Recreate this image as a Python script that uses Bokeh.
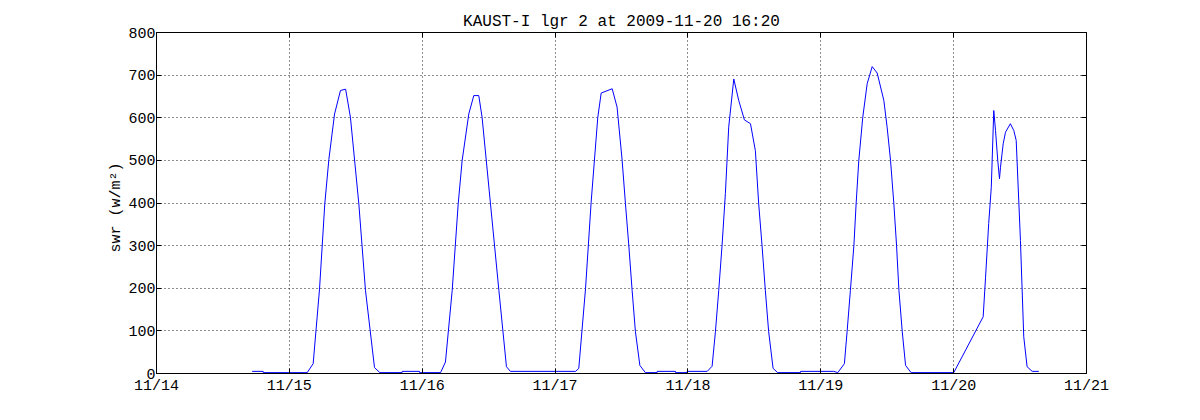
from datetime import datetime
from bokeh.plotting import figure
from bokeh.models import (ColumnDataSource, FixedTicker, DatetimeTickFormatter,
                          DatetimeAxis, LinearAxis, Range1d, CustomJSTickFormatter)
from bokeh.embed import file_html
from bokeh.resources import INLINE

title_text = "KAUST-I lgr 2 at 2009-11-20 16:20"
y_label = "swr  (w/m\u00b2)"

times = [
    "2009-11-14 17:17", "2009-11-14 19:16", "2009-11-14 19:17", "2009-11-15 03:13",
    "2009-11-15 04:18", "2009-11-15 05:27", "2009-11-15 06:24", "2009-11-15 07:08",
    "2009-11-15 08:10", "2009-11-15 09:14", "2009-11-15 10:10", "2009-11-15 11:02",
    "2009-11-15 12:33", "2009-11-15 13:45", "2009-11-15 15:23", "2009-11-15 16:21",
    "2009-11-15 20:22", "2009-11-15 20:23", "2009-11-15 23:31", "2009-11-15 23:32",
    "2009-11-16 03:19", "2009-11-16 04:12", "2009-11-16 05:25", "2009-11-16 06:30",
    "2009-11-16 07:13", "2009-11-16 08:25", "2009-11-16 09:19", "2009-11-16 10:13",
    "2009-11-16 10:49", "2009-11-16 12:20", "2009-11-16 13:51", "2009-11-16 15:13",
    "2009-11-16 15:56", "2009-11-17 03:42", "2009-11-17 04:17", "2009-11-17 05:30",
    "2009-11-17 06:31", "2009-11-17 07:43", "2009-11-17 08:20", "2009-11-17 10:19",
    "2009-11-17 11:12", "2009-11-17 12:07",
    "2009-11-17 12:43", "2009-11-17 13:19", "2009-11-17 13:55", "2009-11-17 14:31",
    "2009-11-17 15:19", "2009-11-17 16:19", "2009-11-17 18:26", "2009-11-17 18:27",
    "2009-11-17 21:45", "2009-11-17 21:46", "2009-11-17 23:51", "2009-11-17 23:52",
    "2009-11-18 03:29", "2009-11-18 04:22", "2009-11-18 04:58", "2009-11-18 05:34",
    "2009-11-18 06:10", "2009-11-18 06:46", "2009-11-18 07:22", "2009-11-18 08:17",
    "2009-11-18 09:10", "2009-11-18 10:12", "2009-11-18 11:18", "2009-11-18 12:11",
    "2009-11-18 12:47", "2009-11-18 13:23", "2009-11-18 13:59", "2009-11-18 14:35",
    "2009-11-18 15:23", "2009-11-18 16:13", "2009-11-18 20:20", "2009-11-18 20:21",
    "2009-11-19 02:21", "2009-11-19 03:04", "2009-11-19 04:16", "2009-11-19 04:45",
    "2009-11-19 05:21", "2009-11-19 05:59", "2009-11-19 06:23", "2009-11-19 06:52",
    "2009-11-19 07:35", "2009-11-19 08:23", "2009-11-19 09:17", "2009-11-19 10:11",
    "2009-11-19 11:23", "2009-11-19 11:59", "2009-11-19 12:36", "2009-11-19 13:12",
    "2009-11-19 13:41", "2009-11-19 14:07", "2009-11-19 14:43", "2009-11-19 15:19",
    "2009-11-19 16:19", "2009-11-20 00:01", "2009-11-20 05:20", "2009-11-20 05:46",
    "2009-11-20 06:20", "2009-11-20 06:48", "2009-11-20 07:15", "2009-11-20 07:34",
    "2009-11-20 07:58", "2009-11-20 08:17", "2009-11-20 08:28", "2009-11-20 08:57",
    "2009-11-20 09:22", "2009-11-20 10:15", "2009-11-20 10:52", "2009-11-20 11:18",
    "2009-11-20 12:04", "2009-11-20 12:40", "2009-11-20 13:16", "2009-11-20 14:11",
    "2009-11-20 15:23",
]

swr = [
    5, 5, 2, 2,
    23, 198, 398, 502,
    609, 664, 667, 601,
    398, 195, 14, 2,
    2, 5, 5, 2,
    2, 27, 195, 398,
    500, 609, 652, 652,
    601, 398, 195, 16,
    5, 5, 12, 199,
    402, 601, 658, 668,
    625, 500,
    398, 301, 195, 98,
    19, 2, 2, 5,
    5, 2, 2, 5,
    5, 17, 98, 195,
    301, 422, 578, 691,
    641, 595, 586, 523,
    398, 301, 195, 98,
    12, 2, 2, 5,
    5, 2, 23, 98,
    195, 301, 398, 500,
    601, 680, 720, 705,
    641, 578, 500, 398,
    301, 195, 98, 19,
    2, 2, 133, 226,
    352, 437, 617, 570,
    500, 457, 484, 539,
    566, 586, 570, 547,
    312, 86, 16, 5,
    5,
]

x_tick_dates = ["2009-11-14", "2009-11-15", "2009-11-16", "2009-11-17",
                "2009-11-18", "2009-11-19", "2009-11-20", "2009-11-21"]
y_ticks = [0, 100, 200, 300, 400, 500, 600, 700, 800]

FONT = "Liberation Mono"

t = [datetime.strptime(s, "%Y-%m-%d %H:%M") for s in times]
tick_dt = [datetime.strptime(s, "%Y-%m-%d") for s in x_tick_dates]
epoch = datetime(1970, 1, 1)
tick_ms = [(d - epoch).total_seconds() * 1000.0 for d in tick_dt]

src = ColumnDataSource(data=dict(t=t, swr=swr))

p = figure(
    width=1184, height=404,
    frame_width=930, frame_height=341,
    x_axis_type="datetime",
    x_range=Range1d(tick_dt[0], tick_dt[-1]),
    y_range=Range1d(y_ticks[0], y_ticks[-1]),
    output_backend="svg", toolbar_location=None,
    min_border_left=156, min_border_right=98,
    min_border_top=32, min_border_bottom=31,
    title=title_text,
)
p.title.align = "center"
p.title.text_font = FONT
p.title.text_font_size = "16px"
p.title.text_font_style = "normal"
p.title.text_color = "black"
p.title.standoff = 4

p.line("t", "swr", source=src, line_color="#0000ff", line_width=1)

fmt = DatetimeTickFormatter(days="%m/%d", months="%m/%d", hours="%m/%d", years="%m/%d")
p.xaxis.ticker = FixedTicker(ticks=tick_ms)
p.xaxis.formatter = fmt
p.yaxis.ticker = FixedTicker(ticks=y_ticks)
p.yaxis.axis_label = y_label

for ax in (p.xaxis[0], p.yaxis[0]):
    ax.major_tick_in = 5
    ax.major_tick_out = 0
    ax.minor_tick_in = 0
    ax.minor_tick_out = 0
    ax.axis_line_color = "black"
    ax.major_tick_line_color = "black"
    ax.major_label_text_font = FONT
    ax.major_label_text_font_size = "15px"
    ax.major_label_text_color = "black"
    ax.axis_label_text_font = FONT
    ax.axis_label_text_font_size = "15px"
    ax.axis_label_text_font_style = "normal"
    ax.axis_label_text_color = "black"
p.xaxis.major_label_standoff = 4
p.yaxis.major_label_standoff = 1
p.yaxis.axis_label_standoff = 0

blank = CustomJSTickFormatter(code="return ''")
top_ax = DatetimeAxis(ticker=FixedTicker(ticks=tick_ms), formatter=blank)
right_ax = LinearAxis(ticker=FixedTicker(ticks=y_ticks), formatter=blank)
for ax in (top_ax, right_ax):
    ax.major_tick_in = 5
    ax.major_tick_out = 0
    ax.minor_tick_in = 0
    ax.minor_tick_out = 0
    ax.major_label_text_font_size = "2px"
    ax.major_label_standoff = 0
    ax.axis_line_color = "black"
    ax.major_tick_line_color = "black"
p.add_layout(top_ax, "above")
p.add_layout(right_ax, "right")

for g in (p.xgrid[0], p.ygrid[0]):
    g.grid_line_color = "black"
    g.grid_line_dash = "1 3"
    g.grid_line_width = 1
    g.grid_line_alpha = 0.9
p.xgrid.ticker = FixedTicker(ticks=tick_ms)
p.ygrid.ticker = FixedTicker(ticks=y_ticks)

p.outline_line_color = "black"
p.background_fill_color = "white"
p.border_fill_color = "white"

open("out.html", "w").write(file_html(p, INLINE))
